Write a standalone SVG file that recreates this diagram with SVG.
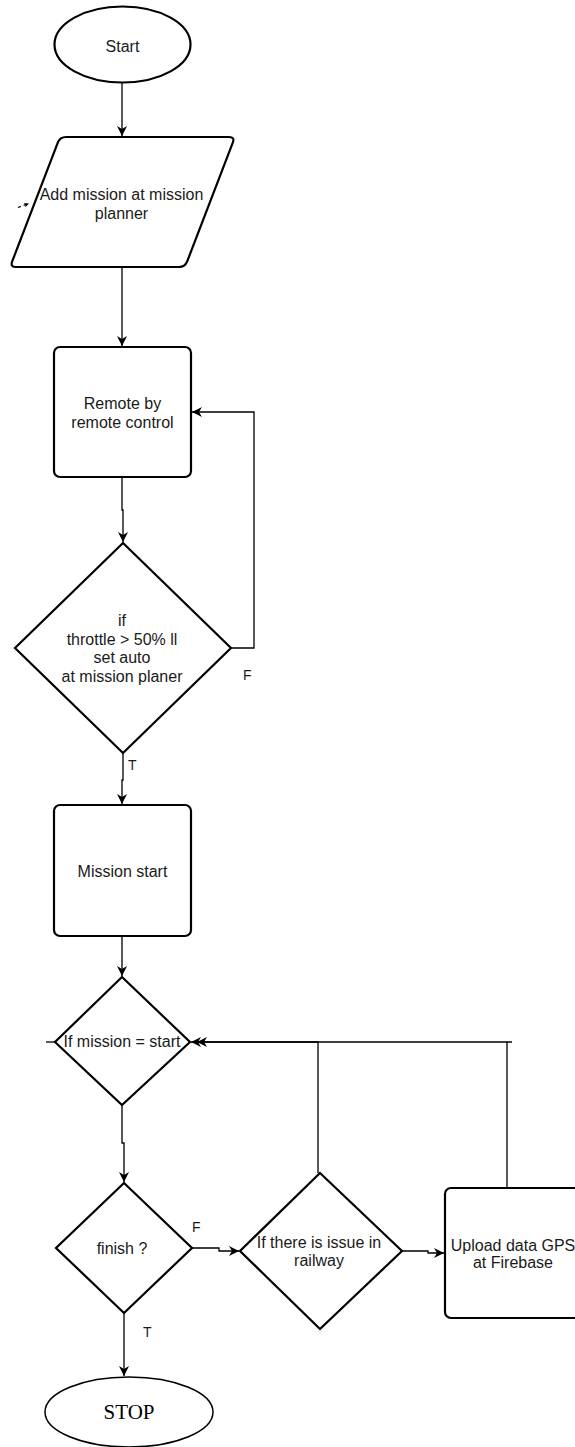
<svg xmlns="http://www.w3.org/2000/svg" width="575" height="1447" viewBox="0 0 575 1447">
<style>
.shape{fill:#fff;stroke:#000;stroke-width:2.2}
.conn{fill:none;stroke:#000;stroke-width:1.3}
.t{font-family:"Liberation Sans",Arial,sans-serif;font-size:16px;fill:#1a1a1a;text-anchor:middle}
.lbl{font-family:"Liberation Sans",Arial,sans-serif;font-size:14px;fill:#1a1a1a}
.serif{font-family:"Liberation Serif","Times New Roman",serif;font-size:21px;fill:#000;text-anchor:middle}
</style>
<defs>
<marker id="arr" viewBox="0 0 10 10" refX="10" refY="5" markerWidth="10" markerHeight="10" markerUnits="userSpaceOnUse" orient="auto">
<path d="M0,0 L10,5 L0,10 L3,5 Z" fill="#000"/>
</marker>
<marker id="arrs" viewBox="0 0 10 10" refX="10" refY="5" markerWidth="5" markerHeight="5" markerUnits="userSpaceOnUse" orient="auto">
<path d="M0,0 L10,5 L0,10 L3,5 Z" fill="#000"/>
</marker>
</defs>
<g id="connectors">
<path class="conn" d="M122,83 V136" marker-end="url(#arr)"/>
<path class="conn" d="M122,267 V346" marker-end="url(#arr)"/>
<path class="conn" d="M122,477 V510 H123 V542" marker-end="url(#arr)"/>
<path class="conn" d="M231,648 H254 V412 H192" marker-end="url(#arr)"/>
<path class="conn" d="M123,753 V780 H122 V804" marker-end="url(#arr)"/>
<path class="conn" d="M122,936 V976" marker-end="url(#arr)"/>
<path class="conn" d="M318,1173 V1042 H191" marker-end="url(#arr)"/>
<path class="conn" d="M507,1188 V1042 M512,1042 H197" marker-end="url(#arr)"/>
<path class="conn" d="M46,1042 H55"/>
<path class="conn" d="M122,1105 V1143 H124 V1182" marker-end="url(#arr)"/>
<path class="conn" d="M192,1248 H219 V1251 H239" marker-end="url(#arr)"/>
<path class="conn" d="M402,1251 H428 V1253 H444" marker-end="url(#arr)"/>
<path class="conn" d="M124,1313 V1376" marker-end="url(#arr)"/>
<path class="conn" d="M18,207.5 L29,203.5" stroke-dasharray="3,3" stroke-width="1" marker-end="url(#arrs)"/>
</g>
<g id="start">
<ellipse class="shape" cx="122.5" cy="44.5" rx="68" ry="38"/>
<text class="t" x="122.5" y="52">Start</text>
</g>
<g id="add-mission">
<path class="shape" d="M66,137 H229 Q235,137 232.8,142.6 L187.2,261.4 Q185,267 179,267 H16 Q10,267 12.2,261.4 L57.8,142.6 Q60,137 66,137 Z"/>
<text class="t" x="121.5" y="200">Add mission at mission</text>
<text class="t" x="121.5" y="219">planner</text>
</g>
<g id="remote">
<rect class="shape" x="54" y="347" width="137" height="130" rx="6"/>
<text class="t" x="122.5" y="409">Remote by</text>
<text class="t" x="122.5" y="428">remote control</text>
</g>
<g id="throttle">
<polygon class="shape" points="123,543 231,648 123,753 15,648"/>
<text class="t" x="122" y="626">if</text>
<text class="t" x="122" y="644.5">throttle &gt; 50% ll</text>
<text class="t" x="122" y="663">set auto</text>
<text class="t" x="122" y="681.5">at mission planer</text>
</g>
<text class="lbl" x="243" y="680">F</text>
<text class="lbl" x="128" y="770">T</text>
<g id="mission-start">
<rect class="shape" x="54" y="805" width="137" height="131" rx="6"/>
<text class="t" x="122.5" y="877">Mission start</text>
</g>
<g id="if-mission">
<polygon class="shape" points="122,977 190,1042 122,1105 55,1042"/>
<text class="t" x="122" y="1047">If mission = start</text>
</g>
<g id="finish">
<polygon class="shape" points="124,1183 192,1248 124,1313 56,1248"/>
<text class="t" x="122" y="1254">finish ?</text>
</g>
<text class="lbl" x="192" y="1232">F</text>
<text class="lbl" x="143" y="1337">T</text>
<g id="railway">
<polygon class="shape" points="320,1173 402,1251 320,1329 240,1251"/>
<text class="t" x="319" y="1248">If there is issue in</text>
<text class="t" x="319" y="1266">railway</text>
</g>
<g id="upload">
<rect class="shape" x="445" y="1188" width="136" height="130" rx="6"/>
<text class="t" x="513" y="1251">Upload data GPS</text>
<text class="t" x="513" y="1268">at Firebase</text>
</g>
<g id="stop">
<ellipse cx="129" cy="1412" rx="84" ry="35" fill="#fff" stroke="#000" stroke-width="1.5"/>
<text class="serif" x="129" y="1419">STOP</text>
</g>
</svg>
